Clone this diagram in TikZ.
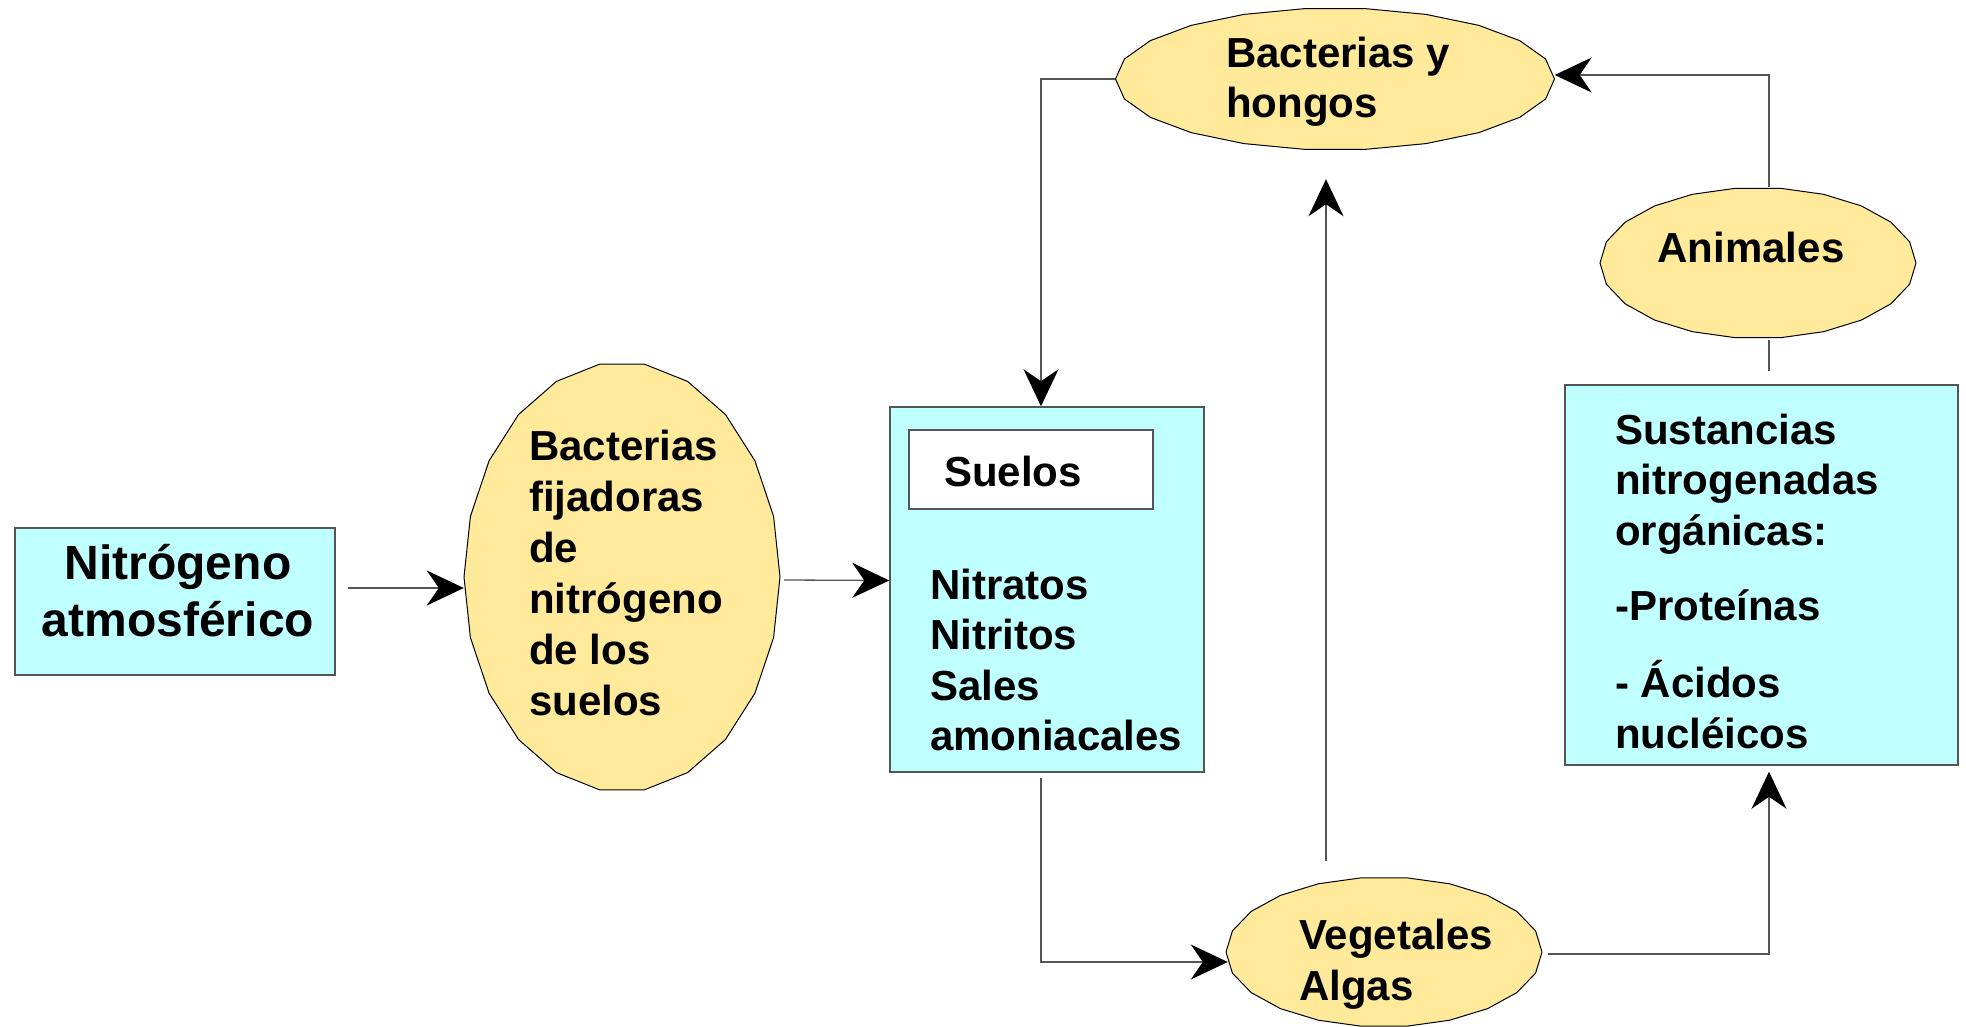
\documentclass[tikz,border=0pt]{standalone}
\usepackage{fontspec}
\setmainfont{Liberation Sans}
\usetikzlibrary{shapes.geometric,arrows.meta,backgrounds}
\definecolor{cyanbox}{RGB}{192,255,255}
\definecolor{yel}{RGB}{255,233,155}
\definecolor{edge}{RGB}{85,85,85}
\newcommand{\tl}[1]{\begin{tabular}[t]{@{}l@{}}#1\end{tabular}}
\begin{document}
\begin{tikzpicture}[x=1pt,y=-1pt,
  box/.style={rectangle, draw=edge, line width=1.5pt, fill=cyanbox, inner sep=0pt},
  whitebox/.style={rectangle, draw=edge, line width=1.3pt, fill=white, inner sep=0pt},
  ell/.style={ellipse, inner sep=0pt},
  txt/.style={font=\fontsize{42}{51}\selectfont\bfseries, inner sep=0pt, anchor=base west},
  conn/.style={draw=edge, line width=1.3pt},
  arr/.style={conn, -{Stealth[length=37pt,width=35pt,inset=12pt,color=black]}}]
\useasboundingbox (0,0) rectangle (1966,1027);

% shapes
\node[box, minimum width=320pt, minimum height=147pt] (nit) at (175,601.5) {};
\node[ell, minimum width=316pt, minimum height=430pt] (bfn) at (622,577) {};
\node[box, minimum width=314pt, minimum height=365pt] (sue) at (1047,589.5) {};
\node[whitebox, minimum width=244pt, minimum height=79pt] (sin) at (1031,469.5) {};
\node[ell, minimum width=316pt, minimum height=150pt] (veg) at (1384,952) {};
\node[box, minimum width=393pt, minimum height=380pt] (sus) at (1761.5,575) {};
\node[ell, minimum width=316pt, minimum height=151pt] (ani) at (1758,263) {};
\node[ell, minimum width=439pt, minimum height=142pt] (bh) at (1335,79) {};

\begin{scope}[on background layer]
\foreach \n/\rx/\ry in {bfn/158/215,veg/158/75,ani/158/75.5,bh/219.5/71}{
  \begin{scope}[shift={(\n.center)}]
  \filldraw[fill=yel, draw=black, line width=1pt, line join=round]
    plot[samples=23, domain=0:360] ({\rx*cos(\x)},{\ry*sin(\x)}) -- cycle;
  \end{scope}
}
\end{scope}

% texts
\node[txt, anchor=base, font=\fontsize{48}{57}\selectfont\bfseries] (nitT) at (178,579)
  {\begin{tabular}[t]{@{}c@{}}Nitrógeno\\atmosférico\end{tabular}};
\node[txt] (bfnT) at (529,460) {\tl{Bacterias\\fijadoras\\de\\nitrógeno\\de los\\suelos}};
\node[txt] (sinT) at (944,486) {Suelos};
\node[txt, font=\fontsize{42}{50.6}\selectfont\bfseries] (sueT) at (930,599) {\tl{Nitratos\\Nitritos\\Sales\\amoniacales}};
\node[txt, font=\fontsize{42}{50.5}\selectfont\bfseries] (susT) at (1615,444) {\tl{Sustancias\\nitrogenadas\\orgánicas:\\[25pt]-Proteínas\\[25pt]- Ácidos\\nucléicos}};
\node[txt, font=\fontsize{42}{50}\selectfont\bfseries] (bhT) at (1226,68) {\tl{Bacterias y\\hongos}};
\node[txt, anchor=base] (aniT) at (1751,262) {Animales};
\node[txt] (vegT) at (1299,949) {\tl{Vegetales\\Algas}};

% connectors
\draw[arr] ([shift={(12,-13.5)}]nit.east) -- ([shift={(0,11)}]bfn.west);
\draw[arr] ([shift={(4,3)}]bfn.east) -- ([shift={(0,-9)}]sue.west);
\draw[arr] ([shift={(-6,5)}]sue.south) |- ([shift={(2,10)}]veg.west);
\draw[arr] ([shift={(6,2)}]veg.east) -| ([shift={(7.5,6)}]sus.south);
\draw[arr] ([shift={(-58,-16)}]veg.north) -- ([shift={(-9,29)}]bh.south);
\draw[conn] ([shift={(7.5,-13)}]sus.north) -- ([shift={(11,1)}]ani.south);
\draw[arr] ([shift={(11,0)}]ani.north) |- ([shift={(0,-4)}]bh.east);
\draw[arr] (bh.west) -| ([shift={(-6,0)}]sue.north);
\end{tikzpicture}
\end{document}
